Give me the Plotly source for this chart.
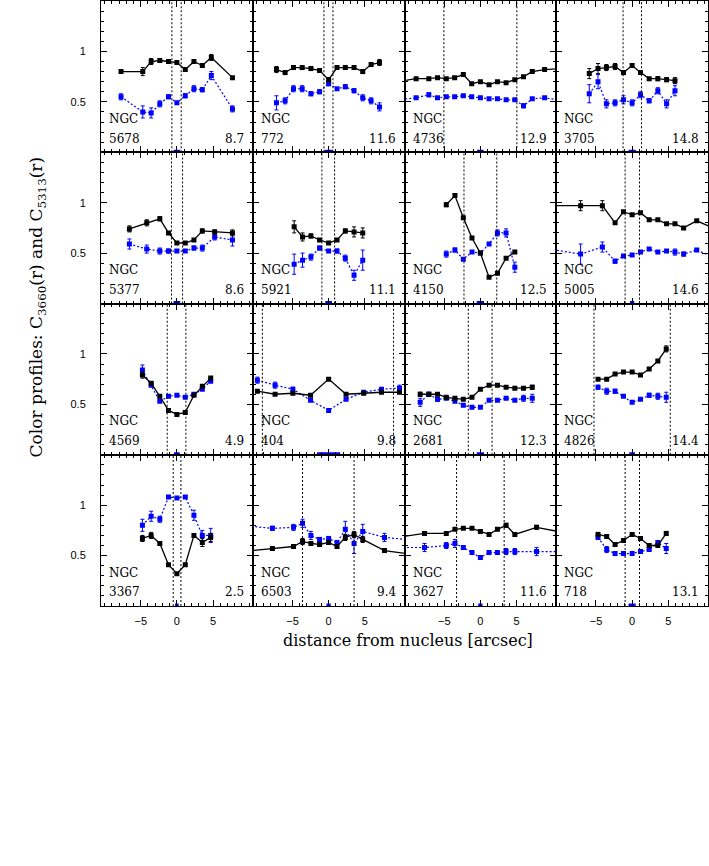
import plotly.graph_objects as go
from plotly.subplots import make_subplots

# NGC number and the value printed in the lower right corner of each panel
galaxies = ["5678", "772", "4736", "3705",
            "5377", "5921", "4150", "5005",
            "4569", "404", "2681", "4826",
            "3367", "6503", "3627", "718"]
corner = ["8.7", "11.6", "12.9", "14.8",
          "8.6", "11.1", "12.5", "14.6",
          "4.9", "9.8", "12.3", "14.4",
          "2.5", "9.4", "11.6", "13.1"]

# distance from nucleus [arcsec]
radius = [
    [-7.73, -4.72, -3.56, -2.36, -1.16, 0, 1.16, 2.36, 3.52, 4.77, 7.69],
    [-7.22, -6.02, -4.86, -3.66, -2.45, -1.25, 0, 1.16, 2.31, 3.52, 4.72, 5.88, 7.04],
    [-11.5, -8.89, -7.13, -5.93, -4.72, -3.56, -2.36, -1.20, 0, 1.20, 2.36, 3.56, 4.77, 5.97, 7.18, 8.89, 11.5],
    [-5.93, -4.72, -3.56, -2.36, -1.20, 0, 1.16, 2.36, 3.56, 4.77, 5.93],
    [-6.57, -4.17, -2.36, -1.16, 0, 1.16, 2.36, 3.52, 5.23, 7.69],
    [-4.77, -3.61, -2.45, -1.25, 0, 1.16, 2.31, 3.52, 4.72],
    [-4.72, -3.52, -2.36, -1.16, 0, 1.20, 2.36, 3.56, 4.77],
    [-11.5, -7.13, -4.12, -2.36, -1.20, 0, 1.16, 2.36, 3.56, 4.77, 5.93, 7.13, 8.94, 11.5],
    [-4.77, -3.56, -2.36, -1.16, 0, 1.16, 2.36, 3.52, 4.68],
    [-9.86, -7.41, -4.95, -2.50, 0, 2.41, 4.86, 7.31, 9.81],
    [-8.33, -7.13, -5.93, -4.72, -3.52, -2.36, -1.16, 0, 1.20, 2.36, 3.56, 4.77, 5.97, 7.18],
    [-4.72, -3.52, -2.36, -1.20, 0, 1.16, 2.36, 3.56, 4.72],
    [-4.77, -3.56, -2.36, -1.16, 0, 1.16, 2.36, 3.52, 4.68],
    [-10.7, -7.78, -4.86, -3.61, -2.45, -1.25, 0, 1.16, 2.31, 3.52, 4.72, 7.73, 10.7],
    [-10.7, -7.73, -4.72, -3.52, -2.36, -1.16, 0, 1.20, 2.36, 3.56, 4.77, 7.78, 10.7],
    [-4.72, -3.52, -2.36, -1.20, 0, 1.16, 2.36, 3.56, 4.72],
]

# C3660(r), black
c3660 = [
    [0.80, 0.80, 0.90, 0.91, 0.90, 0.89, 0.82, 0.90, 0.86, 0.94, 0.74],
    [0.82, 0.79, 0.84, 0.84, 0.83, 0.81, 0.72, 0.84, 0.84, 0.84, 0.80, 0.87, 0.89],
    [0.70, 0.73, 0.73, 0.74, 0.73, 0.74, 0.77, 0.68, 0.70, 0.67, 0.70, 0.69, 0.72, 0.75, 0.80, 0.82, 0.83],
    [0.78, 0.83, 0.84, 0.85, 0.79, 0.86, 0.79, 0.73, 0.73, 0.72, 0.71],
    [0.74, 0.80, 0.84, 0.70, 0.60, 0.60, 0.63, 0.72, 0.71, 0.70],
    [0.76, 0.66, 0.67, 0.63, 0.60, 0.63, 0.72, 0.71, 0.70],
    [0.98, 1.07, 0.85, 0.65, 0.50, 0.26, 0.30, 0.45, 0.51],
    [0.97, 0.97, 0.97, 0.80, 0.91, 0.88, 0.90, 0.83, 0.83, 0.79, 0.79, 0.75, 0.82, 0.74],
    [0.79, 0.71, 0.58, 0.44, 0.40, 0.42, 0.59, 0.68, 0.76],
    [0.63, 0.60, 0.61, 0.59, 0.75, 0.60, 0.61, 0.62, 0.62],
    [0.60, 0.60, 0.60, 0.57, 0.56, 0.55, 0.57, 0.65, 0.69, 0.69, 0.67, 0.66, 0.66, 0.67],
    [0.75, 0.75, 0.80, 0.82, 0.82, 0.79, 0.85, 0.93, 1.05],
    [0.67, 0.70, 0.62, 0.41, 0.32, 0.41, 0.70, 0.63, 0.68],
    [0.55, 0.57, 0.59, 0.64, 0.62, 0.61, 0.63, 0.59, 0.68, 0.71, 0.66, 0.55, 0.52],
    [0.69, 0.72, 0.72, 0.76, 0.77, 0.77, 0.74, 0.71, 0.76, 0.80, 0.71, 0.78, 0.74],
    [0.71, 0.69, 0.61, 0.65, 0.71, 0.67, 0.60, 0.60, 0.72],
]
c3660_err = [
    [0.015, 0.04, 0.03, 0.02, 0.01, 0.01, 0.01, 0.01, 0.01, 0.03, 0.01],
    [0.03, 0.02, 0.02, 0.02, 0.02, 0.01, 0.02, 0.01, 0.01, 0.01, 0.02, 0.02, 0.03],
    [0.01] * 17,
    [0.05, 0.05, 0.03, 0.03, 0.02, 0.02, 0.01, 0.01, 0.02, 0.02, 0.03],
    [0.03, 0.03, 0.02, 0.01, 0.01, 0.01, 0.01, 0.02, 0.02, 0.03],
    [0.06, 0.04, 0.02, 0.01, 0.01, 0.01, 0.02, 0.05, 0.05],
    [0.02, 0.01, 0.01, 0.01, 0.01, 0.01, 0.01, 0.01, 0.01],
    [0.01, 0.05, 0.05, 0.01, 0.01, 0.01, 0.01, 0.01, 0.01, 0.01, 0.01, 0.01, 0.01, 0.01],
    [0.03, 0.01, 0.01, 0.01, 0.01, 0.01, 0.01, 0.01, 0.01],
    [0.01] * 9,
    [0.02, 0.01, 0.01, 0.01, 0.01, 0.01, 0.01, 0.01, 0.01, 0.01, 0.01, 0.01, 0.01, 0.02],
    [0.01, 0.01, 0.01, 0.01, 0.01, 0.01, 0.01, 0.01, 0.03],
    [0.03, 0.03, 0.01, 0.01, 0.01, 0.01, 0.01, 0.04, 0.04],
    [0.01, 0.01, 0.01, 0.03, 0.02, 0.02, 0.02, 0.01, 0.03, 0.03, 0.03, 0.02, 0.01],
    [0.01, 0.01, 0.01, 0.01, 0.01, 0.01, 0.01, 0.01, 0.01, 0.02, 0.01, 0.02, 0.01],
    [0.02, 0.01, 0.01, 0.01, 0.01, 0.01, 0.01, 0.01, 0.02],
]

# C5313(r), blue
c5313 = [
    [0.55, 0.40, 0.39, 0.48, 0.55, 0.49, 0.56, 0.63, 0.62, 0.76, 0.43],
    [0.49, 0.51, 0.63, 0.63, 0.58, 0.60, 0.68, 0.63, 0.65, 0.61, 0.54, 0.51, 0.45],
    [0.52, 0.54, 0.57, 0.54, 0.55, 0.55, 0.56, 0.55, 0.54, 0.53, 0.53, 0.52, 0.52, 0.46, 0.53, 0.54, 0.51],
    [0.58, 0.70, 0.48, 0.49, 0.52, 0.49, 0.57, 0.51, 0.61, 0.48, 0.61],
    [0.59, 0.54, 0.52, 0.52, 0.52, 0.52, 0.55, 0.55, 0.66, 0.63],
    [0.39, 0.43, 0.46, 0.55, 0.52, 0.52, 0.45, 0.28, 0.43],
    [0.49, 0.53, 0.44, 0.51, 0.50, 0.59, 0.70, 0.70, 0.36],
    [0.54, 0.49, 0.56, 0.42, 0.47, 0.48, 0.51, 0.54, 0.51, 0.52, 0.51, 0.49, 0.53, 0.45],
    [0.84, 0.69, 0.53, 0.58, 0.59, 0.57, 0.60, 0.65, 0.73],
    [0.74, 0.69, 0.65, 0.54, 0.44, 0.55, 0.62, 0.65, 0.66],
    [0.52, 0.60, 0.55, 0.56, 0.53, 0.49, 0.47, 0.47, 0.54, 0.54, 0.56, 0.54, 0.56, 0.56],
    [0.67, 0.63, 0.63, 0.58, 0.52, 0.55, 0.59, 0.58, 0.57],
    [0.80, 0.89, 0.86, 1.08, 1.07, 1.08, 0.90, 0.70, 0.70],
    [0.79, 0.77, 0.78, 0.82, 0.70, 0.66, 0.67, 0.63, 0.76, 0.62, 0.74, 0.68, 0.66],
    [0.58, 0.58, 0.60, 0.62, 0.58, 0.53, 0.48, 0.53, 0.53, 0.54, 0.54, 0.54, 0.54],
    [0.68, 0.56, 0.52, 0.52, 0.52, 0.54, 0.56, 0.63, 0.57],
]
c5313_err = [
    [0.03, 0.06, 0.05, 0.03, 0.02, 0.01, 0.02, 0.03, 0.02, 0.04, 0.03],
    [0.07, 0.03, 0.03, 0.03, 0.02, 0.02, 0.02, 0.01, 0.02, 0.02, 0.03, 0.03, 0.04],
    [0.01, 0.01, 0.02, 0.01, 0.01, 0.01, 0.01, 0.01, 0.01, 0.01, 0.01, 0.01, 0.01, 0.02, 0.01, 0.01, 0.01],
    [0.09, 0.07, 0.04, 0.03, 0.04, 0.03, 0.03, 0.02, 0.03, 0.04, 0.05],
    [0.05, 0.04, 0.03, 0.02, 0.01, 0.01, 0.02, 0.03, 0.03, 0.06],
    [0.10, 0.07, 0.03, 0.02, 0.01, 0.02, 0.03, 0.05, 0.10],
    [0.03, 0.02, 0.01, 0.01, 0.01, 0.01, 0.03, 0.04, 0.05],
    [0.01, 0.10, 0.05, 0.02, 0.01, 0.01, 0.01, 0.01, 0.01, 0.01, 0.03, 0.02, 0.01, 0.01],
    [0.05, 0.01, 0.01, 0.01, 0.01, 0.01, 0.01, 0.01, 0.01],
    [0.03, 0.03, 0.02, 0.01, 0.01, 0.01, 0.01, 0.01, 0.03],
    [0.04, 0.02, 0.02, 0.01, 0.01, 0.01, 0.01, 0.01, 0.01, 0.01, 0.01, 0.01, 0.03, 0.04],
    [0.02, 0.03, 0.02, 0.01, 0.01, 0.01, 0.02, 0.03, 0.05],
    [0.06, 0.05, 0.03, 0.01, 0.01, 0.01, 0.05, 0.05, 0.07],
    [0.01, 0.02, 0.03, 0.04, 0.04, 0.02, 0.02, 0.01, 0.08, 0.10, 0.07, 0.04, 0.01],
    [0.01, 0.04, 0.03, 0.04, 0.02, 0.01, 0.01, 0.01, 0.01, 0.03, 0.03, 0.04, 0.01],
    [0.02, 0.03, 0.02, 0.02, 0.01, 0.01, 0.01, 0.01, 0.05],
]

# dotted vertical markers (left, right) [arcsec]
dotted = [(-0.69, 0.60), (-0.65, 0.60), (-5.05, 5.05), (-1.25, 1.30),
          (-0.74, 0.79), (-0.93, 0.83), (-2.27, 2.27), (-0.97, 1.02),
          (-1.34, 1.25), (-9.17, 8.98), (-1.67, 1.62), (-5.28, 5.28),
          (-0.51, 0.56), (-3.61, 3.52), (-3.29, 3.29), (-0.97, 1.02)]

# half width of the blue bar on the bottom axis [arcsec]
slit = [0.46, 0.6, 0.45, 0.5,
        0.46, 0.46, 0.5, 0.3,
        0.4, 1.6, 0.5, 0.4,
        0.25, 0.3, 0.3, 0.5]

BLUE = "#0000ff"
SERIF = "DejaVu Serif"
SANS = "Liberation Sans"

fig = make_subplots(rows=4, cols=4, horizontal_spacing=0, vertical_spacing=0)

for k in range(16):
    row, col = k // 4 + 1, k % 4 + 1
    sfx = "" if k == 0 else str(k + 1)

    fig.add_trace(go.Scatter(
        x=radius[k], y=c5313[k], mode="lines+markers",
        line=dict(color=BLUE, width=1.2, dash="2px,2px"),
        marker=dict(symbol="square", size=5, color=BLUE),
        error_y=dict(type="data", array=c5313_err[k], color=BLUE, thickness=1, width=2),
    ), row=row, col=col)

    fig.add_trace(go.Scatter(
        x=radius[k], y=c3660[k], mode="lines+markers",
        line=dict(color="black", width=1.3),
        marker=dict(symbol="square", size=5, color="black"),
        error_y=dict(type="data", array=c3660_err[k], color="black", thickness=1, width=2),
    ), row=row, col=col)

    # blue bar sitting on the bottom axis
    fig.add_trace(go.Scatter(
        x=[0], y=[0], mode="markers", cliponaxis=False,
        marker=dict(size=1, color="rgba(0,0,0,0)"),
        error_x=dict(type="data", array=[slit[k]], color=BLUE, thickness=5, width=0),
    ), row=row, col=col)

    for xv in dotted[k]:
        fig.add_shape(type="line", x0=xv, x1=xv, y0=0, y1=1,
                      xref="x" + sfx, yref="y" + sfx + " domain",
                      line=dict(color="black", width=1, dash="2px,2px"))

    fig.add_annotation(text="NGC", xref="x" + sfx + " domain", yref="y" + sfx + " domain",
                       x=0.04, y=0.22, xanchor="left", yanchor="middle", showarrow=False,
                       font=dict(family=SERIF, size=12, color="black"))
    fig.add_annotation(text=galaxies[k], xref="x" + sfx + " domain", yref="y" + sfx + " domain",
                       x=0.04, y=0.09, xanchor="left", yanchor="middle", showarrow=False,
                       font=dict(family=SERIF, size=12, color="black"))
    fig.add_annotation(text=corner[k], xref="x" + sfx + " domain", yref="y" + sfx + " domain",
                       x=0.955, y=0.09, xanchor="right", yanchor="middle", showarrow=False,
                       font=dict(family=SERIF, size=12, color="black"))

fig.update_xaxes(
    range=[-10.5, 10.5], tickvals=[-5, 0, 5], ticktext=["\u22125", "0", "5"],
    ticks="inside", ticklen=6, tickcolor="black", showline=True, linecolor="black", linewidth=1,
    mirror="allticks", showgrid=False, zeroline=False, showticklabels=False,
    minor=dict(dtick=1, ticks="inside", ticklen=3, tickcolor="black", showgrid=False),
    tickfont=dict(family=SANS, size=11, color="black"), ticklabelstandoff=5,
)
fig.update_xaxes(showticklabels=True, row=4)

fig.update_yaxes(
    range=[0, 1.5], tickvals=[0.5, 1], ticktext=["0.5", "1"],
    ticks="inside", ticklen=6, tickcolor="black", showline=True, linecolor="black", linewidth=1,
    mirror="allticks", showgrid=False, zeroline=False, showticklabels=False,
    minor=dict(dtick=0.1, ticks="inside", ticklen=3, tickcolor="black", showgrid=False),
    tickfont=dict(family=SANS, size=11, color="black"), ticklabelstandoff=12,
)
fig.update_yaxes(showticklabels=True, col=1)

fig.add_annotation(text="distance from nucleus [arcsec]", xref="paper", yref="paper",
                   x=0.506, y=-0.057, xanchor="center", yanchor="middle", showarrow=False,
                   font=dict(family=SERIF, size=16, color="black"))
fig.add_annotation(text="Color profiles: C<sub>3660</sub>(r) and C<sub>5313</sub>(r)",
                   xref="paper", yref="paper", x=-0.105, y=0.494, textangle=-90,
                   xanchor="center", yanchor="middle", showarrow=False,
                   font=dict(family=SERIF, size=17, color="black"))

fig.update_layout(
    width=709, height=866,
    margin=dict(l=101, r=1, t=1, b=260),
    paper_bgcolor="white", plot_bgcolor="white",
    showlegend=False,
)

fig.write_html("out.html", config={"displayModeBar": False},
               post_script="document.body.style.margin = '0';")
